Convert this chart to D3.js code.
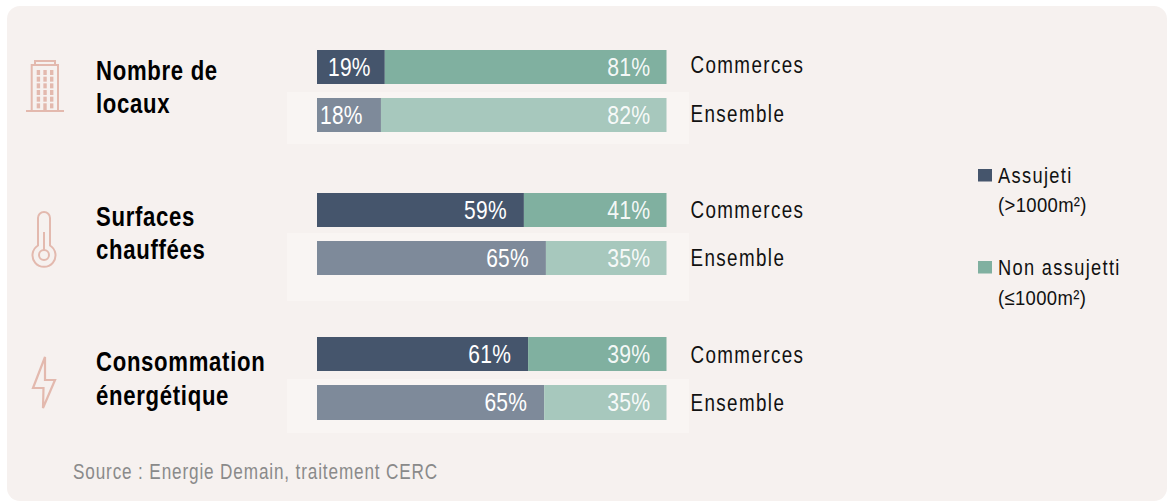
<!DOCTYPE html>
<html><head><meta charset="utf-8">
<script src="https://cdn.jsdelivr.net/npm/d3@7/dist/d3.min.js"></script>
<style>html,body{margin:0;padding:0;background:#fff}svg{display:block}
text{font-family:"Liberation Sans",sans-serif}</style></head>
<body><svg id="c" width="1168" height="501"></svg>
<script>
const groups=["Nombre de locaux","Surfaces chauffées","Consommation énergétique"];
const groupLines=[["Nombre de","locaux"],["Surfaces","chauffées"],["Consommation","énergétique"]];
const rows=["Commerces","Ensemble"];
const assujetti=[[19.4,18.3],[59.2,65.5],[60.4,65]];
const labelsA=[["19%","18%"],["59%","65%"],["61%","65%"]];
const labelsB=[["81%","82%"],["41%","35%"],["39%","35%"]];
const legendItems=[["Assujeti","(>1000m²)"],["Non assujetti","(≤1000m²)"]];
const source="Source : Energie Demain, traitement CERC";

const svg=d3.select("#c");
function txt(x,y,s,size,sx,fill,o={}){
  const t=svg.append("text").attr("transform",`translate(${x},${y}) scale(${sx},1)`)
    .attr("font-size",size).attr("fill",fill).text(s);
  if(o.anchor)t.attr("text-anchor",o.anchor);
  if(o.weight)t.attr("font-weight",o.weight);
  if(o.ls)t.attr("letter-spacing",o.ls);
  if(o.op)t.attr("fill-opacity",o.op);
  return t;
}
svg.append("rect").attr("x",7).attr("y",6).attr("width",1160).attr("height",495).attr("rx",13).attr("fill","#f6f1ef");
const x=d3.scaleLinear().domain([0,100]).range([317,666.5]);
const barY=[[50,98],[193,241],[337,385]];
const barH=[[34,34],[34,34],[34,35]];
const rowLabelY=[[73,122],[218,266],[363,411]];
const halo=[[92,144],[233,301],[379,433]];
const colA=["#45556c","#7e8a9a"],colB=["#80b0a0","#a7c8bd"];
const firstLabelStart=[328,320];

groups.forEach((g,i)=>{
  svg.append("rect").attr("x",287).attr("y",halo[i][0]).attr("width",402).attr("height",halo[i][1]-halo[i][0]).attr("fill","#f9f5f3");
  rows.forEach((r,j)=>{
    const y=barY[i][j],h=barH[i][j],v=assujetti[i][j];
    svg.append("rect").attr("x",x(0)).attr("y",y).attr("width",x(v)-x(0)).attr("height",h).attr("fill",colA[j]);
    svg.append("rect").attr("x",x(v)).attr("y",y).attr("width",x(100)-x(v)).attr("height",h).attr("fill",colB[j]);
    const ty=y+h/2+8.5;
    if(i===0) txt(firstLabelStart[j],ty,labelsA[i][j],25,.84,"#fff",{ls:.3});
    else txt(x(v)-17,ty,labelsA[i][j],25,.84,"#fff",{anchor:"end",ls:.3});
    txt(x(100)-16,ty,labelsB[i][j],25,.85,"#fff",{anchor:"end",ls:.3,op:.92});
    txt(690.5,rowLabelY[i][j],r,23.5,.8,"#111",{ls:1.75});
  });
});
const titleY=[[79.5,113],[225.5,259],[371,405]];
groupLines.forEach((ls,i)=>ls.forEach((l,k)=>txt(96,titleY[i][k],l,28,.79,"#000",{weight:700,ls:.9})));

// icons
const ic=svg.append("g").attr("fill","none").attr("stroke","#e3b9ae").attr("stroke-width",2);
ic.append("path").attr("d","M26 111H64M31.7 111V65H58V111M35 65V61H55V65");
const win=ic.append("g").attr("fill","#e3b9ae").attr("stroke","none");
d3.range(6).forEach(a=>d3.range(3).forEach(b=>{
  if(a===5&&b===1) win.append("rect").attr("x",43.3).attr("y",103.3).attr("width",3.4).attr("height",7);
  else win.append("rect").attr("x",36.7+b*6.65).attr("y",70+a*6.67).attr("width",3.4).attr("height",5);
}));
ic.append("path").attr("d","M38 245.5V218a6 6 0 0 1 12 0V245.5a11.5 11.5 0 1 1 -12 0Z");
ic.append("circle").attr("cx",44).attr("cy",255).attr("r",5);
ic.append("path").attr("d","M44 250V232");
ic.append("path").attr("d","M45 357L33 388H43.5L43 408L55 380H45Z").attr("stroke-width",2.2);

// legend
const legY=[[169,182.5,212.5],[261,275,305]];
const legSwatch=[colA[0],colB[0]];
legendItems.forEach((it,i)=>{
  txt(998,legY[i][1],it[0],22,.83,"#111",{ls:1.6});
  txt(998,legY[i][2]-.5,it[1],21,.88,"#111",{ls:.4});
  svg.append("rect").attr("x",978).attr("y",legY[i][0]).attr("width",14).attr("height",12.5).attr("fill",legSwatch[i]);
});
txt(73,479,source,22,.78,"#8a8a8a",{ls:1.1});
</script></body></html>
